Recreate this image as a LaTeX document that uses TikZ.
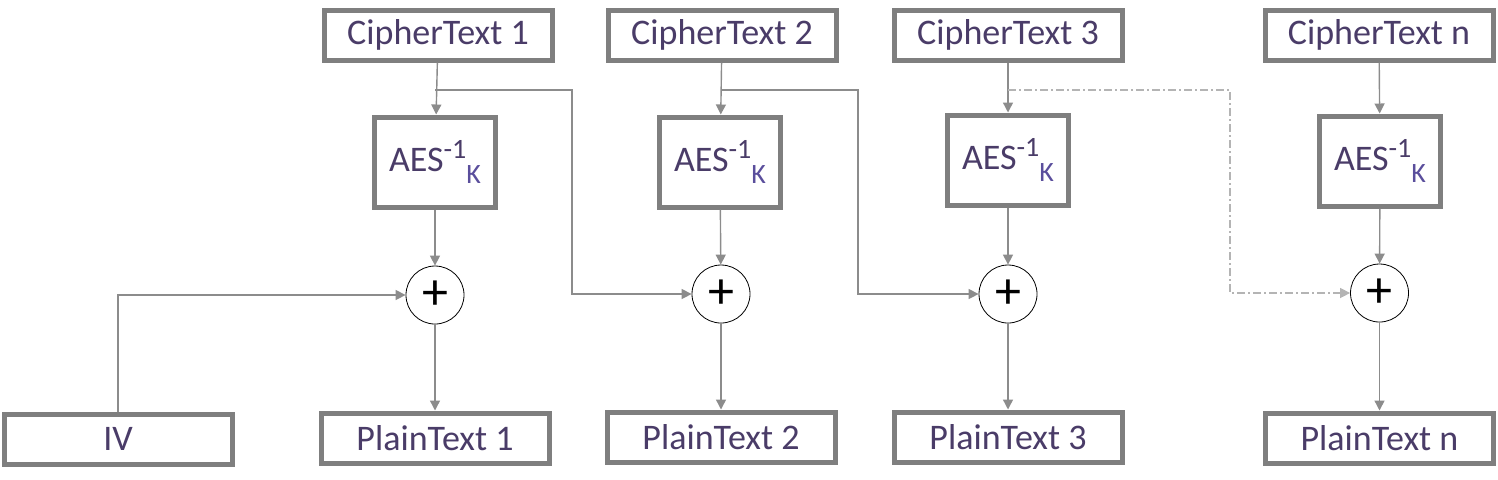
\documentclass[tikz,border=0pt]{standalone}
\usepackage{fontspec}
\setmainfont{Carlito}
\usetikzlibrary{positioning,arrows.meta,calc}
\definecolor{boxgray}{HTML}{7F7F7F}
\definecolor{linegray}{HTML}{8C8C8C}
\definecolor{lightgray}{HTML}{B4B4B4}
\definecolor{textpurple}{HTML}{4A3C68}
\definecolor{keyblue}{HTML}{5A4E9C}
\newcommand{\aesinv}{AES\raisebox{0.75ex}{\fontsize{14}{14}\selectfont -1}\raisebox{-0.7ex}{\fontsize{14}{14}\selectfont\color{keyblue}K}}

\begin{document}
\begin{tikzpicture}[x=0.5pt, y=-0.5pt, >={Triangle[length=5pt,width=5pt]},
  block/.style={draw=boxgray, line width=2.5pt, fill=white, text=textpurple, font=\fontsize{18}{21}\selectfont, minimum width=114pt, minimum height=25pt, inner sep=0pt},
  aesbox/.style={block, minimum width=60.5pt, minimum height=45pt},
  xorop/.style={draw, circle, thin, fill=white, minimum size=29pt, inner sep=0pt, font=\fontsize{26}{26}\selectfont},
  conn/.style={->, draw=linegray, line width=0.7pt},
  chain/.style={conn, draw=lightgray, dash pattern=on 4pt off 1.5pt on 1pt off 1.5pt}]
  \useasboundingbox (0,0) rectangle (1498,479);
  % cipher text blocks
  \node[block] (c1) at (438,35) {CipherText 1};
  \node[block] (c2) at (722,35) {CipherText 2};
  \node[block] (c3) at (1008,35) {CipherText 3};
  \node[block] (cn) at (1379,35) {CipherText n};
  % decryption
  \node[aesbox] (a1) at (435,162) {\aesinv};
  \node[aesbox] (a2) at (720,162) {\aesinv};
  \node[aesbox] (a3) at (1008,160) {\aesinv};
  \node[aesbox] (an) at (1380,161) {\aesinv};
  % xor
  \node[xorop] (x1) at (435,295) {+};
  \node[xorop] (x2) at (721,294) {+};
  \node[xorop] (x3) at (1008,294) {+};
  \node[xorop] (xn) at (1379.5,293) {+};
  % plain text blocks
  \node[block] (iv) at (118,439) {IV};
  \node[block] (p1) at (435,438) {PlainText 1};
  \node[block] (p2) at (721,437) {PlainText 2};
  \node[block] (p3) at (1008,437) {PlainText 3};
  \node[block] (pn) at (1379.5,438) {PlainText n};
  % branch points
  \coordinate (b1) at (435,90);
  \coordinate (b2) at (722,90);
  \coordinate (b3) at (1008,90);

  \draw[conn] (c1) -- (a1);
  \draw[conn] (c2) -- (a2);
  \draw[conn] (c3) -- (a3);
  \draw[conn] (cn) -- (an);
  \draw[conn] (a1) -- (x1);
  \draw[conn] (a2) -- (x2);
  \draw[conn] (a3) -- (x3);
  \draw[conn] (an) -- (xn);
  \draw[conn] (x1) -- (p1);
  \draw[conn] (x2) -- (p2);
  \draw[conn] (x3) -- (p3);
  \draw[conn] (xn) -- (pn);
  \draw[conn] (iv.north) |- (x1.west);
  \draw[conn] (b1) -| (572,294) -- (x2.west);
  \draw[conn] (b2) -| (858,294) -- (x3.west);
  \draw[chain] (b3) -| (1230,293) -- (xn.west);
\end{tikzpicture}
\end{document}
